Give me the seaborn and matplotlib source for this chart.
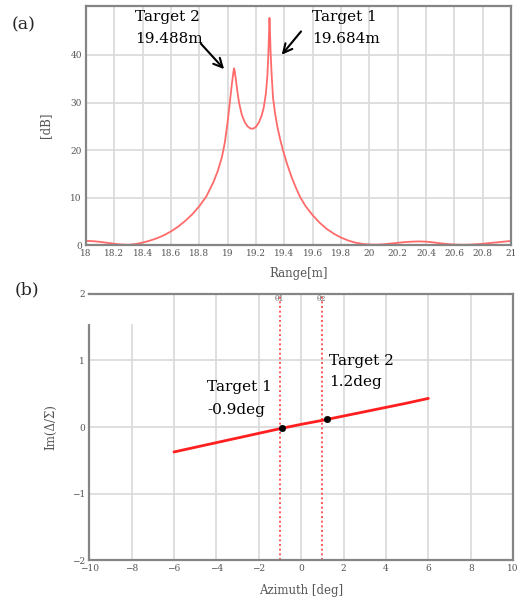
import matplotlib
matplotlib.use("Agg")
import matplotlib.pyplot as plt
import matplotlib.patches as mpatches
import seaborn as sns
import pandas as pd

# (a) range profile, dB
range_m = [18.00, 18.05, 18.10, 18.15, 18.20, 18.25, 18.30, 18.35, 18.40, 18.45,
           18.50, 18.55, 18.60, 18.65, 18.70, 18.75, 18.80, 18.85, 18.90, 18.93,
           18.96, 18.98, 19.00, 19.015, 19.03, 19.04, 19.045, 19.05, 19.06, 19.07,
           19.08, 19.10, 19.12, 19.14, 19.16, 19.18, 19.20, 19.22, 19.24, 19.255,
           19.27, 19.28, 19.287, 19.292, 19.295, 19.298, 19.303, 19.31, 19.32, 19.335,
           19.35, 19.37, 19.39, 19.42, 19.45, 19.48, 19.51, 19.55, 19.60, 19.65,
           19.70, 19.75, 19.80, 19.85, 19.90, 19.95, 20.00, 20.05, 20.10, 20.15,
           20.20, 20.25, 20.30, 20.35, 20.40, 20.45, 20.50, 20.55, 20.60, 20.65,
           20.70, 20.75, 20.80, 20.85, 20.90, 20.95, 21.00]
power_db = [0.9, 0.85, 0.7, 0.5, 0.3, 0.15, 0.1, 0.25, 0.55, 0.95,
            1.45, 2.1, 2.9, 3.9, 5.1, 6.5, 8.2, 10.3, 13.3, 15.6,
            18.6, 21.6, 26.0, 30.0, 34.0, 36.3, 37.2, 36.6, 34.3, 32.0,
            30.0, 27.4, 25.9, 25.0, 24.55, 24.5, 24.9, 25.8, 27.3, 29.0,
            32.0, 35.5, 40.0, 45.0, 47.8, 45.5, 40.5, 36.0, 31.0, 27.6,
            25.0, 22.3, 20.0, 17.0, 14.4, 12.2, 10.2, 8.2, 6.3, 4.7,
            3.4, 2.4, 1.6, 1.0, 0.55, 0.28, 0.15, 0.12, 0.2, 0.35,
            0.5, 0.65, 0.75, 0.8, 0.75, 0.6, 0.4, 0.25, 0.15, 0.1,
            0.12, 0.2, 0.3, 0.45, 0.6, 0.75, 0.9]

# (b) monopulse ratio vs azimuth
azimuth_deg = [-6, -5, -4, -3, -2, -1, 0, 1, 2, 3, 4, 5, 6]
im_ratio = [-0.375, -0.305, -0.235, -0.165, -0.095, -0.025, 0.04, 0.10, 0.165, 0.23, 0.295, 0.36, 0.43]
target_az = [-0.9, 1.2]
target_im = [-0.02, 0.113]
theta_lines = [-1.02, 0.97]
theta_names = ["θ1", "θ2"]

range_ticks = [18 + 0.2 * i for i in range(16)]
range_ticklabels = ["18", "18.2", "18.4", "18.6", "18.8", "19", "19.2", "19.4", "19.6",
                    "19.8", "20", "20.2", "20.4", "20.6", "20.8", "21"]
db_ticks = [0, 10, 20, 30, 40]
az_ticks = [-10, -8, -6, -4, -2, 0, 2, 4, 6, 8, 10]
im_ticks = [-2, -1, 0, 1, 2]

sns.set_theme(style="white")
plt.rcParams["font.family"] = ["DejaVu Serif"]

fig = plt.figure(figsize=(5.21, 6.01), dpi=100)
ax1 = fig.add_axes([0.165, 0.592, 0.816, 0.398])
ax2 = fig.add_axes([0.171, 0.068, 0.814, 0.443])

grid_c = "#d9d9d9"
spine_c = "#858585"
tick_c = "#555555"

for ax in (ax1, ax2):
    ax.set_axisbelow(True)
    ax.grid(True, color=grid_c, linewidth=1.2)
    for s in ax.spines.values():
        s.set_color(spine_c)
        s.set_linewidth(1.6)
    ax.tick_params(axis="both", length=2, width=0.8, color="#aaaaaa",
                   labelsize=6.5, labelcolor=tick_c, pad=1)

# ---- (a)
df_a = pd.DataFrame({"range": range_m, "db": power_db})
sns.lineplot(data=df_a, x="range", y="db", ax=ax1, color="#ff6b6b", linewidth=1.3)
ax1.set_xlim(18, 21)
ax1.set_ylim(0, 50.3)
ax1.set_xticks(range_ticks)
ax1.set_xticklabels(range_ticklabels)
ax1.set_yticks(db_ticks)
ax1.set_xlabel("Range[m]", fontsize=8.5, color=tick_c, labelpad=6)
ax1.set_ylabel("[dB]", fontsize=8.5, color=tick_c, labelpad=13)

txt = dict(fontsize=11, color="black", family="DejaVu Serif")
ax1.text(18.346, 47.9, "Target 2", ha="left", va="center", **txt)
ax1.text(18.346, 43.3, "19.488m", ha="left", va="center", **txt)
ax1.text(19.595, 47.9, "Target 1", ha="left", va="center", **txt)
ax1.text(19.595, 43.3, "19.684m", ha="left", va="center", **txt)
arrow = dict(arrowstyle="->", color="black", lw=1.5, mutation_scale=16)
ax1.annotate("", xy=(18.988, 36.6), xytext=(18.798, 42.8), arrowprops=arrow)
ax1.annotate("", xy=(19.369, 39.6), xytext=(19.530, 45.4), arrowprops=arrow)

# ---- (b)
df_b = pd.DataFrame({"az": azimuth_deg, "im": im_ratio})
sns.lineplot(data=df_b, x="az", y="im", ax=ax2, color="#ff1f1f", linewidth=2.0)
for xv, name in zip(theta_lines, theta_names):
    ax2.axvline(xv, color="#ff4040", linestyle=(0, (1.2, 1.6)), linewidth=1.2, zorder=1.5)
    ax2.text(xv, 1.93, name, ha="center", va="center", fontsize=5.5, color="#666666")
df_t = pd.DataFrame({"az": target_az, "im": target_im})
sns.scatterplot(data=df_t, x="az", y="im", ax=ax2, color="black", s=22,
                edgecolor="black", zorder=4)
ax2.set_xlim(-10, 10)
ax2.set_ylim(-2, 2)
ax2.set_xticks(az_ticks)
ax2.set_xticklabels([("\u2212%d" % -v if v < 0 else "%d" % v) for v in az_ticks])
ax2.set_yticks(im_ticks)
ax2.set_yticklabels(["\u22122", "\u22121", "0", "1", "2"])
ax2.set_xlabel("Azimuth [deg]", fontsize=8.5, color=tick_c, labelpad=8)
ax2.set_ylabel("Im(Δ/Σ)", fontsize=8.5, color=tick_c, labelpad=10)

ax2.text(-4.43, 0.597, "Target 1", ha="left", va="center", **txt)
ax2.text(-4.43, 0.256, "-0.9deg", ha="left", va="center", **txt)
ax2.text(1.32, 0.99, "Target 2", ha="left", va="center", **txt)
ax2.text(1.32, 0.68, "1.2deg", ha="left", va="center", **txt)

# blank patch over the upper-left corner of the frame
ax2.spines["left"].set_zorder(1.8)
ax2.add_patch(mpatches.Rectangle((-10.15, 1.55), 2.2, 0.43, facecolor="white",
                                 edgecolor="none", zorder=2, clip_on=False))

fig.text(0.023, 0.958, "(a)", fontsize=12.5, family="DejaVu Serif", va="center")
fig.text(0.029, 0.518, "(b)", fontsize=12.5, family="DejaVu Serif", va="center")

fig.savefig("out.png", dpi=100)
